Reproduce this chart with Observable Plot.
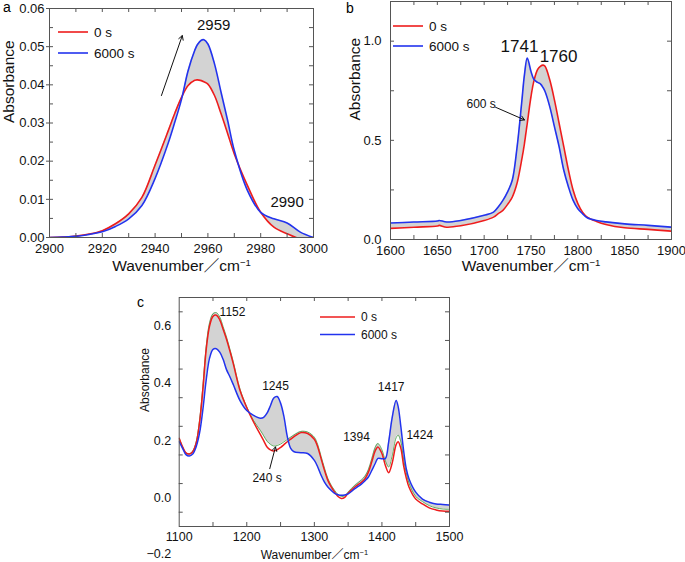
<!DOCTYPE html>
<html><head><meta charset="utf-8">
<script src="https://cdn.jsdelivr.net/npm/d3@7"></script>
<script src="https://cdn.jsdelivr.net/npm/@observablehq/plot@0.6"></script>
<style>
body{margin:0;background:#fff;font-family:"Liberation Sans",Arial,"Noto Sans CJK JP",sans-serif;}
#wrap{position:relative;width:685px;height:562px;overflow:hidden;background:#fff}
.panel{position:absolute}
#overlay{position:absolute;left:0;top:0;pointer-events:none}
</style></head><body><div id="wrap"></div>
<script>
// ---------- Panel a : 2900-3000 cm-1 ----------
const aWave = [2900,2905,2910,2915,2920,2925,2930,2935,2940,2945,2947.5,2950,2952.5,2955,2956,2957.5,2958.5,2960,2962.5,2965,2967.5,2970,2975,2980,2985,2990,2995,3000];
const aRed  = [0.0000,0.0001,0.0004,0.0009,0.0018,0.0036,0.0062,0.0105,0.0190,0.0280,0.0326,0.0367,0.0398,0.0412,0.0413,0.0411,0.0408,0.0402,0.0372,0.0324,0.0272,0.0219,0.0136,0.0066,0.0027,0.0010,-0.0003,0.0000];
const aBlue = [0.0000,0.0001,0.0003,0.0008,0.0015,0.0029,0.0049,0.0084,0.0155,0.0248,0.0303,0.0362,0.0437,0.0490,0.0505,0.0517,0.0518,0.0507,0.0455,0.0380,0.0306,0.0228,0.0123,0.0066,0.0049,0.0038,0.0014,0.0000];
const aXLabels = [2900,2920,2940,2960,2980,3000];
const aYLabels = [0,0.01,0.02,0.03,0.04,0.05,0.06];
const aNotes = [{t:"2959",x:2962.2,y:0.0555,s:15},{t:"2990",x:2990,y:0.0092,s:15}];
const aArrows = [{x1:2942.4,y1:0.0372,x2:2950.3,y2:0.0529}];

// ---------- Panel b : 1600-1900 cm-1 ----------
const bWave = [1600,1625,1650,1652,1660,1675,1700,1710,1715,1720,1725,1730,1735,1740,1743,1746,1750,1753,1757,1760,1763,1765,1770,1775,1780,1785,1790,1795,1800,1805,1810,1820,1830,1850,1875,1900];
const bRed  = [0.056,0.062,0.068,0.071,0.062,0.069,0.096,0.113,0.130,0.147,0.177,0.214,0.282,0.400,0.484,0.586,0.721,0.797,0.856,0.873,0.879,0.873,0.805,0.704,0.586,0.468,0.349,0.248,0.181,0.138,0.113,0.091,0.076,0.059,0.051,0.042];
const bBlue = [0.083,0.088,0.093,0.096,0.088,0.096,0.122,0.138,0.164,0.197,0.240,0.299,0.460,0.687,0.830,0.915,0.847,0.808,0.792,0.785,0.765,0.746,0.670,0.569,0.468,0.349,0.265,0.197,0.155,0.130,0.110,0.096,0.089,0.079,0.071,0.062];
const bXLabels = [1600,1650,1700,1750,1800,1850,1900];
const bYLabels = [0,0.5,1.0];
const bNotes = [{t:"1741",x:1737.7,y:0.972,s:17},{t:"1760",x:1779.4,y:0.920,s:17},{t:"600 s",x:1696.8,y:0.684,s:12}];
const bArrows = [{x1:1712.1,y1:0.667,x2:1743.1,y2:0.603}];

// ---------- Panel c : 1100-1500 cm-1 ----------
const cWave = [1100,1105,1110,1115,1120,1125,1130,1135,1140,1145,1150,1155,1160,1165,1170,1175,1180,1190,1200,1210,1220,1225,1230,1235,1240,1245,1250,1255,1260,1265,1270,1280,1290,1300,1305,1310,1315,1320,1325,1330,1335,1340,1345,1350,1360,1370,1375,1380,1385,1390,1394,1400,1405,1410,1415,1421,1424,1428,1432,1436,1440,1450,1460,1470,1480,1490,1500];
const cRed   = [0.208,0.178,0.157,0.153,0.161,0.190,0.261,0.378,0.519,0.601,0.634,0.638,0.622,0.589,0.554,0.513,0.469,0.375,0.315,0.265,0.222,0.200,0.178,0.168,0.164,0.168,0.176,0.186,0.196,0.205,0.214,0.228,0.225,0.205,0.178,0.137,0.096,0.061,0.038,0.020,0.005,-0.002,0.002,0.016,0.038,0.055,0.067,0.090,0.126,0.164,0.178,0.155,0.114,0.088,0.120,0.186,0.196,0.173,0.114,0.070,0.038,-0.004,-0.021,-0.035,-0.042,-0.046,-0.047];
const cGreen = [0.208,0.178,0.157,0.154,0.163,0.194,0.268,0.388,0.530,0.612,0.643,0.647,0.632,0.598,0.562,0.520,0.476,0.380,0.318,0.270,0.236,0.217,0.198,0.187,0.181,0.183,0.188,0.196,0.204,0.212,0.220,0.232,0.230,0.212,0.186,0.145,0.104,0.068,0.044,0.026,0.012,0.005,0.007,0.020,0.044,0.063,0.076,0.099,0.137,0.176,0.190,0.168,0.130,0.108,0.145,0.210,0.219,0.196,0.135,0.088,0.052,0.005,-0.013,-0.027,-0.035,-0.039,-0.040];
const cBlue  = [0.196,0.173,0.151,0.146,0.153,0.178,0.225,0.308,0.413,0.489,0.519,0.521,0.509,0.484,0.448,0.423,0.396,0.340,0.305,0.288,0.278,0.281,0.296,0.322,0.349,0.354,0.331,0.284,0.214,0.173,0.161,0.158,0.155,0.131,0.108,0.079,0.055,0.038,0.026,0.016,0.011,0.009,0.010,0.014,0.032,0.049,0.060,0.073,0.096,0.120,0.138,0.137,0.137,0.196,0.278,0.340,0.319,0.249,0.167,0.102,0.067,0.020,-0.004,-0.015,-0.021,-0.023,-0.025];
const cXLabels = [1100,1200,1300,1400,1500];
const cYLabels = [0,0.2,0.4,0.6];
const cNotes = [{t:"1152",x:1178.9,y:0.648,s:12},{t:"1245",x:1242.5,y:0.392,s:12},{t:"1394",x:1362.4,y:0.213,s:12},{t:"1417",x:1413.7,y:0.387,s:12},{t:"1424",x:1456,y:0.219,s:12},{t:"240 s",x:1230,y:0.070,s:12}];
const cArrows = [{x1:1234,y1:0.102,x2:1242.5,y2:0.178}];

const legendLabels = ["0 s","6000 s"];
const RED = "#ee1c1c", BLUE = "#2233ee", GREEN = "#3c9a3c";
const xTitleMain = "Wavenumber／cm", xTitleSup = "−1";
const yTitle = "Absorbance";
const font = '"Liberation Sans", Arial, "Noto Sans CJK JP", sans-serif';

function panel(o){
  const innerW = o.width - o.mL - o.mR, innerH = o.height - o.mT - o.mB, tl = 4;
  const band = o.wave.map((x,i)=>({x, lo:o.bandLo[i], hi:o.bandHi[i]}));
  const marks = [Plot.areaY(band,{x:"x",y1:"lo",y2:"hi",fill:"#d3d3d3",curve:"catmull-rom",clip:true})];
  for (const s of o.series) marks.push(Plot.line(o.wave.map((x,i)=>({x,y:s.v[i]})),{x:"x",y:"y",stroke:s.color,strokeWidth:s.w,curve:"catmull-rom",clip:true}));
  marks.push(
    Plot.tickX(o.xMinor,{x:d=>d,insetTop:innerH-tl,stroke:"#555"}),
    Plot.tickX(o.xMinor,{x:d=>d,insetBottom:innerH-tl,stroke:"#555"}),
    Plot.tickY(o.yMinor,{y:d=>d,insetLeft:innerW-tl,stroke:"#555"}),
    Plot.tickY(o.yMinor,{y:d=>d,insetRight:innerW-tl,stroke:"#555"}),
    Plot.frame({stroke:"#555"}),
    Plot.axisX(o.xLabels,{tickSize:0,tickPadding:o.xPad,fontSize:o.tickFont,label:null,tickFormat:d=>String(d)}),
    Plot.axisY(o.yLabels,{tickSize:o.yTick||0,tickPadding:o.yPad,fontSize:o.tickFont,label:null,tickFormat:o.yFmt,stroke:"#555"}),
    Plot.text([xTitleMain],{text:d=>d,frameAnchor:"bottom",dy:o.xTitleDy,fontSize:o.titleFont,className:"xtitle"}),
    Plot.text([yTitle],{text:d=>d,frameAnchor:"left",dx:o.yTitleDx,rotate:-90,fontSize:o.titleFont}),
    Plot.text(o.notes,{x:"x",y:"y",text:"t",fontSize:d=>d.s,fill:"#111"}),
    Plot.arrow(o.arrows,{x1:"x1",y1:"y1",x2:"x2",y2:"y2",stroke:"#111",strokeWidth:1,headLength:7})
  );
  if (o.extra) marks.push(...o.extra);
  const svg = Plot.plot({
    width:o.width,height:o.height,marginLeft:o.mL,marginRight:o.mR,marginTop:o.mT,marginBottom:o.mB,
    x:{domain:o.xDomain},y:{domain:o.yDomain},
    style:{fontFamily:font,color:"#111",background:"transparent",overflow:"visible"},
    marks
  });
  d3.select(svg).selectAll("g.xtitle text").each(function(){
    d3.select(this).append("tspan").attr("dy","-0.5em").attr("font-size","0.62em").text(xTitleSup);
  });
  svg.classList.add("panel");
  svg.style.left = o.left+"px"; svg.style.top = o.top+"px";
  document.getElementById("wrap").appendChild(svg);
}

panel({left:0,top:0,width:330,height:280,mL:49,mR:17,mT:8,mB:43,
  wave:aWave,bandLo:aRed,bandHi:aBlue,
  series:[{v:aRed,color:RED,w:1.6},{v:aBlue,color:BLUE,w:1.6}],
  xDomain:[2900,3000],yDomain:[0,0.06],
  xMinor:d3.range(2910,3000,10),yMinor:d3.range(0.005,0.06,0.005),
  xLabels:aXLabels,yLabels:aYLabels,yFmt:d3.format(".2f"),yTick:3,
  xPad:6,yPad:2,tickFont:13,titleFont:15.5,xTitleDy:33,yTitleDx:-40,
  notes:aNotes,arrows:aArrows});

panel({left:330,top:0,width:355,height:280,mL:60,mR:14,mT:1,mB:41,
  wave:bWave,bandLo:bRed,bandHi:bBlue,
  series:[{v:bRed,color:RED,w:1.6},{v:bBlue,color:BLUE,w:1.6}],
  xDomain:[1600,1900],yDomain:[0,1.2],
  xMinor:d3.range(1625,1900,25),yMinor:[0.25,0.5,0.75,1.0],
  xLabels:bXLabels,yLabels:bYLabels,yFmt:d3.format(".1f"),
  xPad:6,yPad:9,tickFont:13,titleFont:15.5,xTitleDy:31,yTitleDx:-35,
  notes:bNotes,arrows:bArrows});

panel({left:130,top:280,width:330,height:282,mL:48.7,mR:11,mT:17,mB:36,
  wave:cWave,bandLo:cGreen,bandHi:cBlue,
  series:[{v:cGreen,color:GREEN,w:0.8},{v:cRed,color:RED,w:1.5},{v:cBlue,color:BLUE,w:1.5}],
  xDomain:[1100,1500],yDomain:[-0.1,0.7],
  xMinor:d3.range(1150,1500,50),yMinor:d3.range(-0.05,0.7,0.1).map(d=>Math.round(d*100)/100).filter(d=>d>-0.1),
  xLabels:cXLabels,yLabels:cYLabels,yFmt:d3.format(".1f"),
  xPad:6,yPad:8,tickFont:12.5,titleFont:12,xTitleDy:32,yTitleDx:-34,
  notes:cNotes,arrows:cArrows,
  extra:[Plot.text(["−0.2"],{text:d=>d,frameAnchor:"bottom-left",dx:-8,dy:31,textAnchor:"end",fontSize:12.5})]});

// ---------- overlay: panel letters & legends ----------
const ov = d3.select("#wrap").append("svg").attr("id","overlay").attr("width",685).attr("height",562)
  .style("font-family",font);
const letters = [{t:"a",x:3,y:12},{t:"b",x:346,y:13},{t:"c",x:137,y:307}];
ov.selectAll("text.l").data(letters).join("text").attr("class","l")
  .attr("x",d=>d.x).attr("y",d=>d.y).attr("font-size",14).text(d=>d.t);
const legends = [{x:58,y:32,dy:21,len:30,fs:13.5},{x:393,y:26,dy:20,len:30,fs:13.5},{x:320,y:317,dy:17.5,len:35,fs:12}];
for (const L of legends){
  [RED,BLUE].forEach((c,i)=>{
    const y = L.y + i*L.dy;
    ov.append("line").attr("x1",L.x).attr("x2",L.x+L.len).attr("y1",y).attr("y2",y).attr("stroke",c).attr("stroke-width",1.6);
    ov.append("text").attr("x",L.x+L.len+6).attr("y",y).attr("dy","0.35em").attr("font-size",L.fs).attr("fill","#111").text(legendLabels[i]);
  });
}
</script></body></html>
